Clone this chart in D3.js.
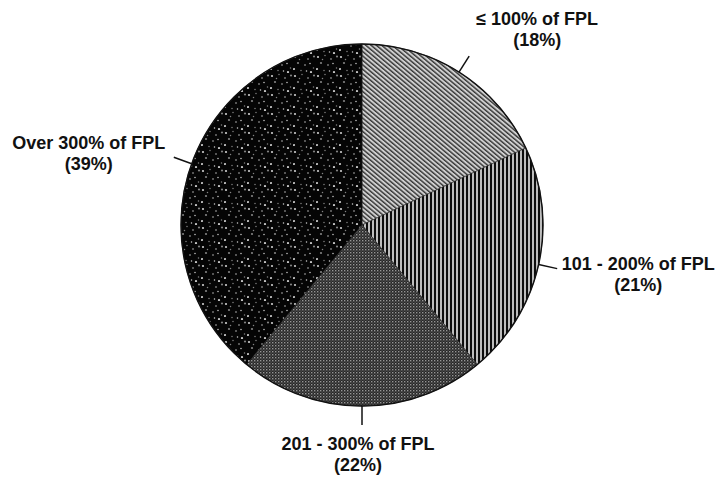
<!DOCTYPE html>
<html>
<head>
<meta charset="utf-8">
<script src="https://cdn.jsdelivr.net/npm/d3@7.9.0/dist/d3.min.js"></script>
<style>
  body { margin: 0; background: #fff; }
  svg { display: block; }
  .lbl { font-family: "Liberation Sans", Arial, sans-serif; font-size: 18px; font-weight: bold; fill: #111; }
</style>
</head>
<body>
<svg width="722" height="481"></svg>
<script>
// income groups as share of Federal Poverty Level
const groups = ['≤ 100% of FPL', '101 - 200% of FPL', '201 - 300% of FPL', 'Over 300% of FPL'];
const shares = [18, 21, 22, 39];
const shareLabels = ['(18%)', '(21%)', '(22%)', '(39%)'];

const width = 722, height = 481;
const cx = 362, cy = 225, radius = 181;

const svg = d3.select('svg');
const defs = svg.append('defs');

// diagonal hatching
let p1 = defs.append('pattern').attr('id', 'diag').attr('patternUnits', 'userSpaceOnUse')
  .attr('width', 3.4).attr('height', 3.4).attr('patternTransform', 'rotate(-50)');
p1.append('rect').attr('width', 3.4).attr('height', 3.4).attr('fill', '#cfcfcf');
p1.append('rect').attr('width', 1.4).attr('height', 3.4).attr('fill', '#333');

// vertical lines
let p2 = defs.append('pattern').attr('id', 'vert').attr('patternUnits', 'userSpaceOnUse')
  .attr('width', 4).attr('height', 4);
p2.append('rect').attr('width', 4).attr('height', 4).attr('fill', '#bdbdbd');
p2.append('rect').attr('width', 2).attr('height', 4).attr('fill', '#0d0d0d');

// fine stipple
let p3 = defs.append('pattern').attr('id', 'dots').attr('patternUnits', 'userSpaceOnUse')
  .attr('width', 3).attr('height', 3);
p3.append('rect').attr('width', 3).attr('height', 3).attr('fill', '#262626');
p3.append('rect').attr('width', 1.4).attr('height', 1.4).attr('fill', '#959595');
p3.append('rect').attr('x', 1.5).attr('y', 1.5).attr('width', 1.2).attr('height', 1.2).attr('fill', '#5e5e5e');

// black with speckles
let p4 = defs.append('pattern').attr('id', 'speck').attr('patternUnits', 'userSpaceOnUse')
  .attr('width', 23).attr('height', 19);
p4.append('rect').attr('width', 23).attr('height', 19).attr('fill', '#050505');
[[2, 3], [9, 1.5], [15, 5], [5, 9], [12, 11], [20.5, 14], [1, 15], [8, 16.5], [17, 9.5],
 [21, 2.5], [13.5, 17], [6.5, 5.5], [18, 18]].forEach(([x, y], i) => {
  p4.append('circle').attr('cx', x).attr('cy', y).attr('r', i % 3 === 0 ? 1.1 : 0.75)
    .attr('fill', '#fff').attr('opacity', i % 2 ? 0.5 : 0.8);
});

const fills = ['url(#diag)', 'url(#vert)', 'url(#dots)', 'url(#speck)'];

const pie = d3.pie().sort(null).value(d => d);
const arcs = pie(shares);
const arc = d3.arc().innerRadius(0).outerRadius(radius);

const g = svg.append('g').attr('transform', `translate(${cx},${cy})`);

g.selectAll('path.slice')
  .data(arcs)
  .join('path')
  .attr('class', 'slice')
  .attr('d', arc)
  .attr('fill', (d, i) => fills[i])
  .attr('stroke', '#222')
  .attr('stroke-width', 0.6);

g.append('circle').attr('r', radius).attr('fill', 'none').attr('stroke', '#111').attr('stroke-width', 1.4);

// leader ticks
const tickIn = d3.arc().innerRadius(radius).outerRadius(radius);
const tickOut = d3.arc().innerRadius(radius + 19).outerRadius(radius + 19);
g.selectAll('line.tick')
  .data(arcs)
  .join('line')
  .attr('x1', d => tickIn.centroid(d)[0])
  .attr('y1', d => tickIn.centroid(d)[1])
  .attr('x2', d => tickOut.centroid(d)[0])
  .attr('y2', d => tickOut.centroid(d)[1])
  .attr('stroke', '#111')
  .attr('stroke-width', 1.5);

// label placement relative to tick end
const nudge = [[68, -31], [81, 1], [-4, 25], [-85, -8]];
arcs.forEach((d, i) => {
  const [x, y] = tickOut.centroid(d);
  const t = g.append('text').attr('class', 'lbl').attr('text-anchor', 'middle');
  t.append('tspan').attr('x', x + nudge[i][0]).attr('y', y + nudge[i][1]).text(groups[i]);
  t.append('tspan').attr('x', x + nudge[i][0]).attr('y', y + nudge[i][1] + 21).text(shareLabels[i]);
});
</script>
</body>
</html>
